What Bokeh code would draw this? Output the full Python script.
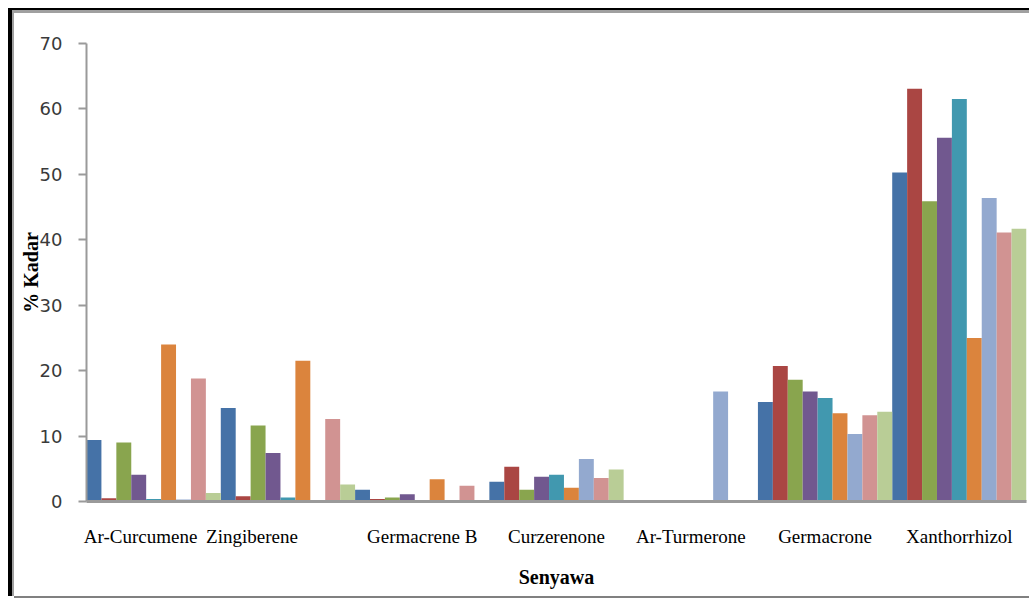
from bokeh.plotting import figure
from bokeh.models import Range1d, FixedTicker, CustomJSTickFormatter
from bokeh.embed import file_html
from bokeh.resources import INLINE

# Compounds (x categories)
categories = ["Ar-Curcumene", "Zingiberene", "Germacrene B", "Curzerenone",
              "Ar-Turmerone", "Germacrone", "Xanthorrhizol"]

# % content per sample, one list per sample (same order as categories)
s1 = [9.4, 14.3, 1.8, 3.0, 0.0, 15.2, 50.3]
s2 = [0.5, 0.8, 0.4, 5.3, 0.0, 20.7, 63.1]
s3 = [9.0, 11.6, 0.6, 1.8, 0.0, 18.6, 45.9]
s4 = [4.1, 7.4, 1.1, 3.8, 0.0, 16.8, 55.6]
s5 = [0.4, 0.6, 0.0, 4.1, 0.0, 15.8, 61.5]
s6 = [24.0, 21.5, 3.4, 2.1, 0.0, 13.5, 25.0]
s7 = [0.3, 0.0, 0.0, 6.5, 16.8, 10.3, 46.4]
s8 = [18.8, 12.6, 2.4, 3.6, 0.0, 13.2, 41.1]
s9 = [1.3, 2.6, 0.0, 4.9, 0.0, 13.7, 41.7]

series = [s1, s2, s3, s4, s5, s6, s7, s8, s9]
colors = ["#4572A7", "#AA4643", "#89A54E", "#71588F", "#4198AF",
          "#DB843D", "#93A9CF", "#D19392", "#B9CD96"]

yticks = [0, 10, 20, 30, 40, 50, 60, 70]

# horizontal nudge (px) of each category name under its group
label_nudge = [-13, -36, 0, 0, 0, 0, 0]

W, H = 1015, 583
BORDER_L, BORDER_R = 72, 3
ncat = len(categories)

# each compound occupies one unit on the x axis: group i spans [i, i + 1]
p = figure(width=W, height=H, output_backend="svg", toolbar_location=None,
           x_range=Range1d(0, ncat), y_range=Range1d(0, 70),
           min_border_left=BORDER_L, min_border_right=BORDER_R,
           min_border_top=30, min_border_bottom=95)

# boxed chart frame: black outer edge with a grey inner edge
p.styles = {
    "margin-left": "14px",
    "margin-top": "13px",
    "box-shadow": ("-2px 0 0 0 #a0a0a0, 0 -3px 0 0 #a0a0a0, -2px -3px 0 0 #a0a0a0, "
                   "-6px 0 0 0 #000000, 0 -5px 0 0 #000000, -6px -5px 0 0 #000000, "
                   "0 2px 0 0 #808080"),
}

n = len(series)
bw = 1.0 / n
for i, vals in enumerate(series):
    xs = [g + (i + 0.5) * bw for g in range(ncat)]
    p.vbar(x=xs, top=vals, width=bw, fill_color=colors[i], line_color=None)

p.outline_line_color = None
p.xgrid.visible = False
p.ygrid.visible = False
p.background_fill_color = "white"
p.border_fill_color = "white"

# y axis
ya = p.yaxis[0]
ya.ticker = FixedTicker(ticks=yticks)
ya.axis_line_color = "#9a9a9a"
ya.axis_line_width = 2
ya.major_tick_line_color = "#9a9a9a"
ya.major_tick_line_width = 2
ya.major_tick_out = 8
ya.major_tick_in = 0
ya.minor_tick_line_color = None
ya.major_label_standoff = 16
ya.major_label_text_font = "DejaVu Sans"
ya.major_label_text_font_size = "18px"
ya.major_label_text_color = "#3a3a3a"
ya.axis_label = "% Kadar"
ya.axis_label_text_font = "Liberation Serif"
ya.axis_label_text_font_style = "bold"
ya.axis_label_text_font_size = "20px"
ya.axis_label_text_color = "#000000"
ya.axis_label_standoff = -5

# x axis: compound names under their groups
group_px = (W - BORDER_L - BORDER_R) / ncat
name_ticks = [g + 0.5 + nudge / group_px for g, nudge in enumerate(label_nudge)]
xa = p.xaxis[0]
xa.ticker = FixedTicker(ticks=name_ticks, minor_ticks=[])
xa.formatter = CustomJSTickFormatter(args=dict(names=categories),
                                     code="return names[index]")
xa.axis_line_color = "#9a9a9a"
xa.axis_line_width = 3
xa.major_tick_line_color = None
xa.minor_tick_line_color = None
xa.major_label_standoff = 18
xa.major_label_text_font = "Liberation Serif"
xa.major_label_text_font_size = "19px"
xa.major_label_text_color = "#000000"
xa.axis_label = "Senyawa"
xa.axis_label_text_font = "Liberation Serif"
xa.axis_label_text_font_style = "bold"
xa.axis_label_text_font_size = "20px"
xa.axis_label_text_color = "#000000"
xa.axis_label_standoff = 16

open("out.html", "w").write(file_html(p, INLINE))
